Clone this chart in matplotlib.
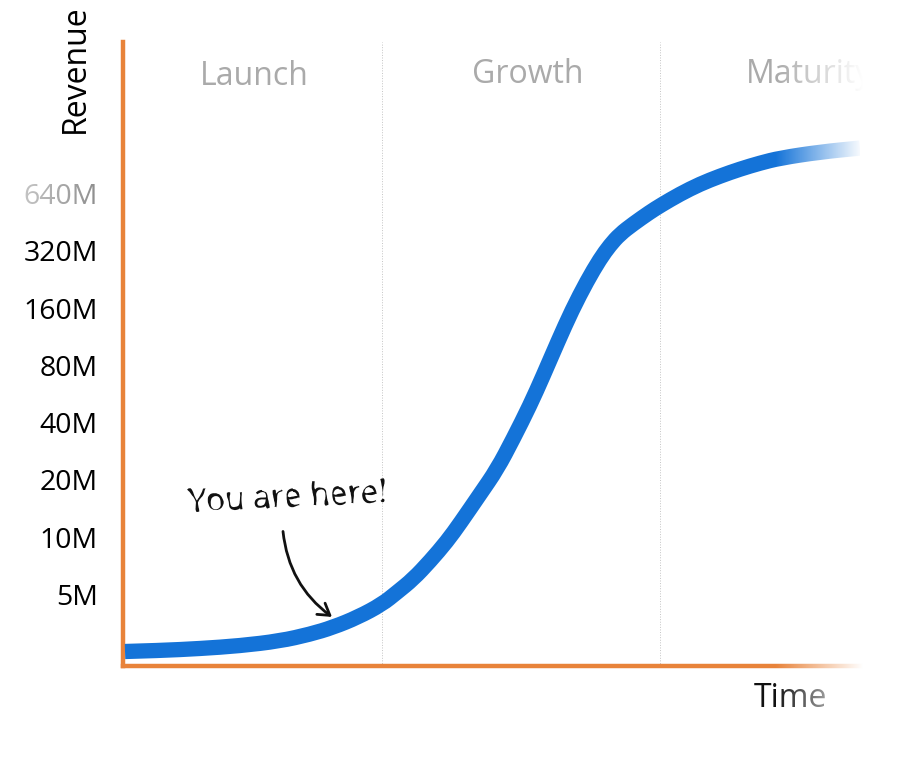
import matplotlib
matplotlib.use("Agg")
import matplotlib.pyplot as plt
from matplotlib.patches import PathPatch
from matplotlib.path import Path
from matplotlib.patheffects import AbstractPathEffect
import numpy as np

# time runs in arbitrary units, revenue in millions
time = [2, 37, 77, 117, 157, 187, 210, 235, 259, 274, 290, 307, 324, 337, 357, 374, 390, 407, 420, 435,
        449, 464, 477, 487, 497, 510, 527, 538, 557, 577, 597, 617, 637, 657, 697, 737]
revenue = [2.5, 2.53, 2.59, 2.68, 2.84, 3.08, 3.35, 3.79, 4.43, 5.12, 6.0, 7.46, 9.5, 11.8, 16.8, 22.7, 32.7, 49.4, 70.2, 107,
           156, 222, 290, 343, 392, 443, 512, 557, 637, 719, 792, 862, 927, 985, 1060, 1112]
tick_values = [5, 10, 20, 40, 80, 160, 320, 640]
tick_labels = ["5M", "10M", "20M", "40M", "80M", "160M", "320M", "640M"]
phase_edges = [259, 537]
phase_names = ["Launch", "Growth", "Maturity"]
phase_x = [131, 405, 623]
phase_y = [2387, 2445, 2445]
phase_align = ["center", "center", "left"]

ORANGE = "#E8833A"
BLUE = "#1473D8"
W, H = 906, 783


# wobbly outline for the hand written note
class Rough(AbstractPathEffect):
    def draw_path(self, renderer, gc, tpath, affine, rgbFace=None):
        gc0 = renderer.new_gc()
        gc0.copy_properties(gc)
        gc0.set_sketch_params(0.8, 30, 3)
        renderer.draw_path(gc0, tpath, affine, rgbFace)
        gc0.restore()


plt.rcParams["font.family"] = ["Open Sans", "DejaVu Sans"]
fig = plt.figure(figsize=(W / 100, H / 100), dpi=100)
ax = fig.add_axes([123 / W, (H - 665.5) / H, 737 / W, 623.5 / H])
ax.set_yscale("log", base=2)
ax.set_xlim(0, 737)
ax.set_ylim(2.11, 4018)

# readings are the control points of a quadratic spline, keeps the line smooth
t = np.array(time, dtype=float)
r = np.array(revenue, dtype=float)
mid_t = (t[:-1] + t[1:]) / 2
mid_r = np.sqrt(r[:-1] * r[1:])
verts = [(t[0], r[0])]
codes = [Path.MOVETO]
for i in range(1, len(t) - 1):
    verts += [(t[i], r[i]), (mid_t[i], mid_r[i])]
    codes += [Path.CURVE3, Path.CURVE3]
verts.append((t[-1], r[-1]))
codes.append(Path.LINETO)
ax.add_patch(PathPatch(Path(verts, codes), fill=False, edgecolor=BLUE, lw=11, capstyle="butt", joinstyle="round", zorder=3))

for edge in phase_edges:
    ax.axvline(edge, color="#c4c4c4", lw=0.7, ls=":", zorder=1)

ax.spines["top"].set_visible(False)
ax.spines["right"].set_visible(False)
ax.spines["left"].set_color(ORANGE)
ax.spines["bottom"].set_color(ORANGE)
ax.spines["left"].set_linewidth(3.2)
ax.spines["bottom"].set_linewidth(3.2)

ax.set_xticks([])
ax.set_yticks(tick_values)
ax.set_yticklabels(tick_labels, fontsize=20.5, color="black")
ax.minorticks_off()
ax.tick_params(axis="y", length=0, pad=18)

for name, x, y, align in zip(phase_names, phase_x, phase_y, phase_align):
    ax.text(x, y, name, fontsize=23, color="#aaaaaa", ha=align, va="baseline", clip_on=False)

ax.set_ylabel("Revenue", fontsize=23, color="black")
ax.yaxis.set_label_coords(-0.064, 0.957)
ax.yaxis.label.set_va("center")
ax.yaxis.label.set_ha("center")
ax.set_xlabel("Time", fontsize=23, color="#111111")
ax.xaxis.set_label_coords(0.906, -0.053)
ax.xaxis.label.set_va("center")

note = ax.text(165, 16, "You are here!", fontsize=23, color="#111111", rotation=3, ha="center", va="center")
note.set_path_effects([Rough()])
ax.annotate("", xy=(209, 3.8), xytext=(160, 10.7),
            arrowprops=dict(arrowstyle="->,head_length=0.8,head_width=0.5", color="#111111", lw=2,
                            connectionstyle="arc3,rad=0.22", shrinkA=0, shrinkB=0))

# white gradients on top fade the right edge and the 640M label
over = fig.add_axes([0, 0, 1, 1], zorder=10)
over.axis("off")

fade = np.ones((1, 256, 4))
fade[..., 3] = np.clip(np.linspace(0, 1.2, 256), 0, 1)
over.imshow(fade, extent=(775, 880, 720, 30), aspect="auto", interpolation="bilinear")
fade2 = np.ones((1, 256, 4))
fade2[..., 3] = np.linspace(0.8, 0.55, 256)
over.imshow(fade2, extent=(15, 100, 206, 176), aspect="auto", interpolation="bilinear")
over.set_xlim(0, W)
over.set_ylim(H, 0)

fig.savefig("out.png", dpi=100)
